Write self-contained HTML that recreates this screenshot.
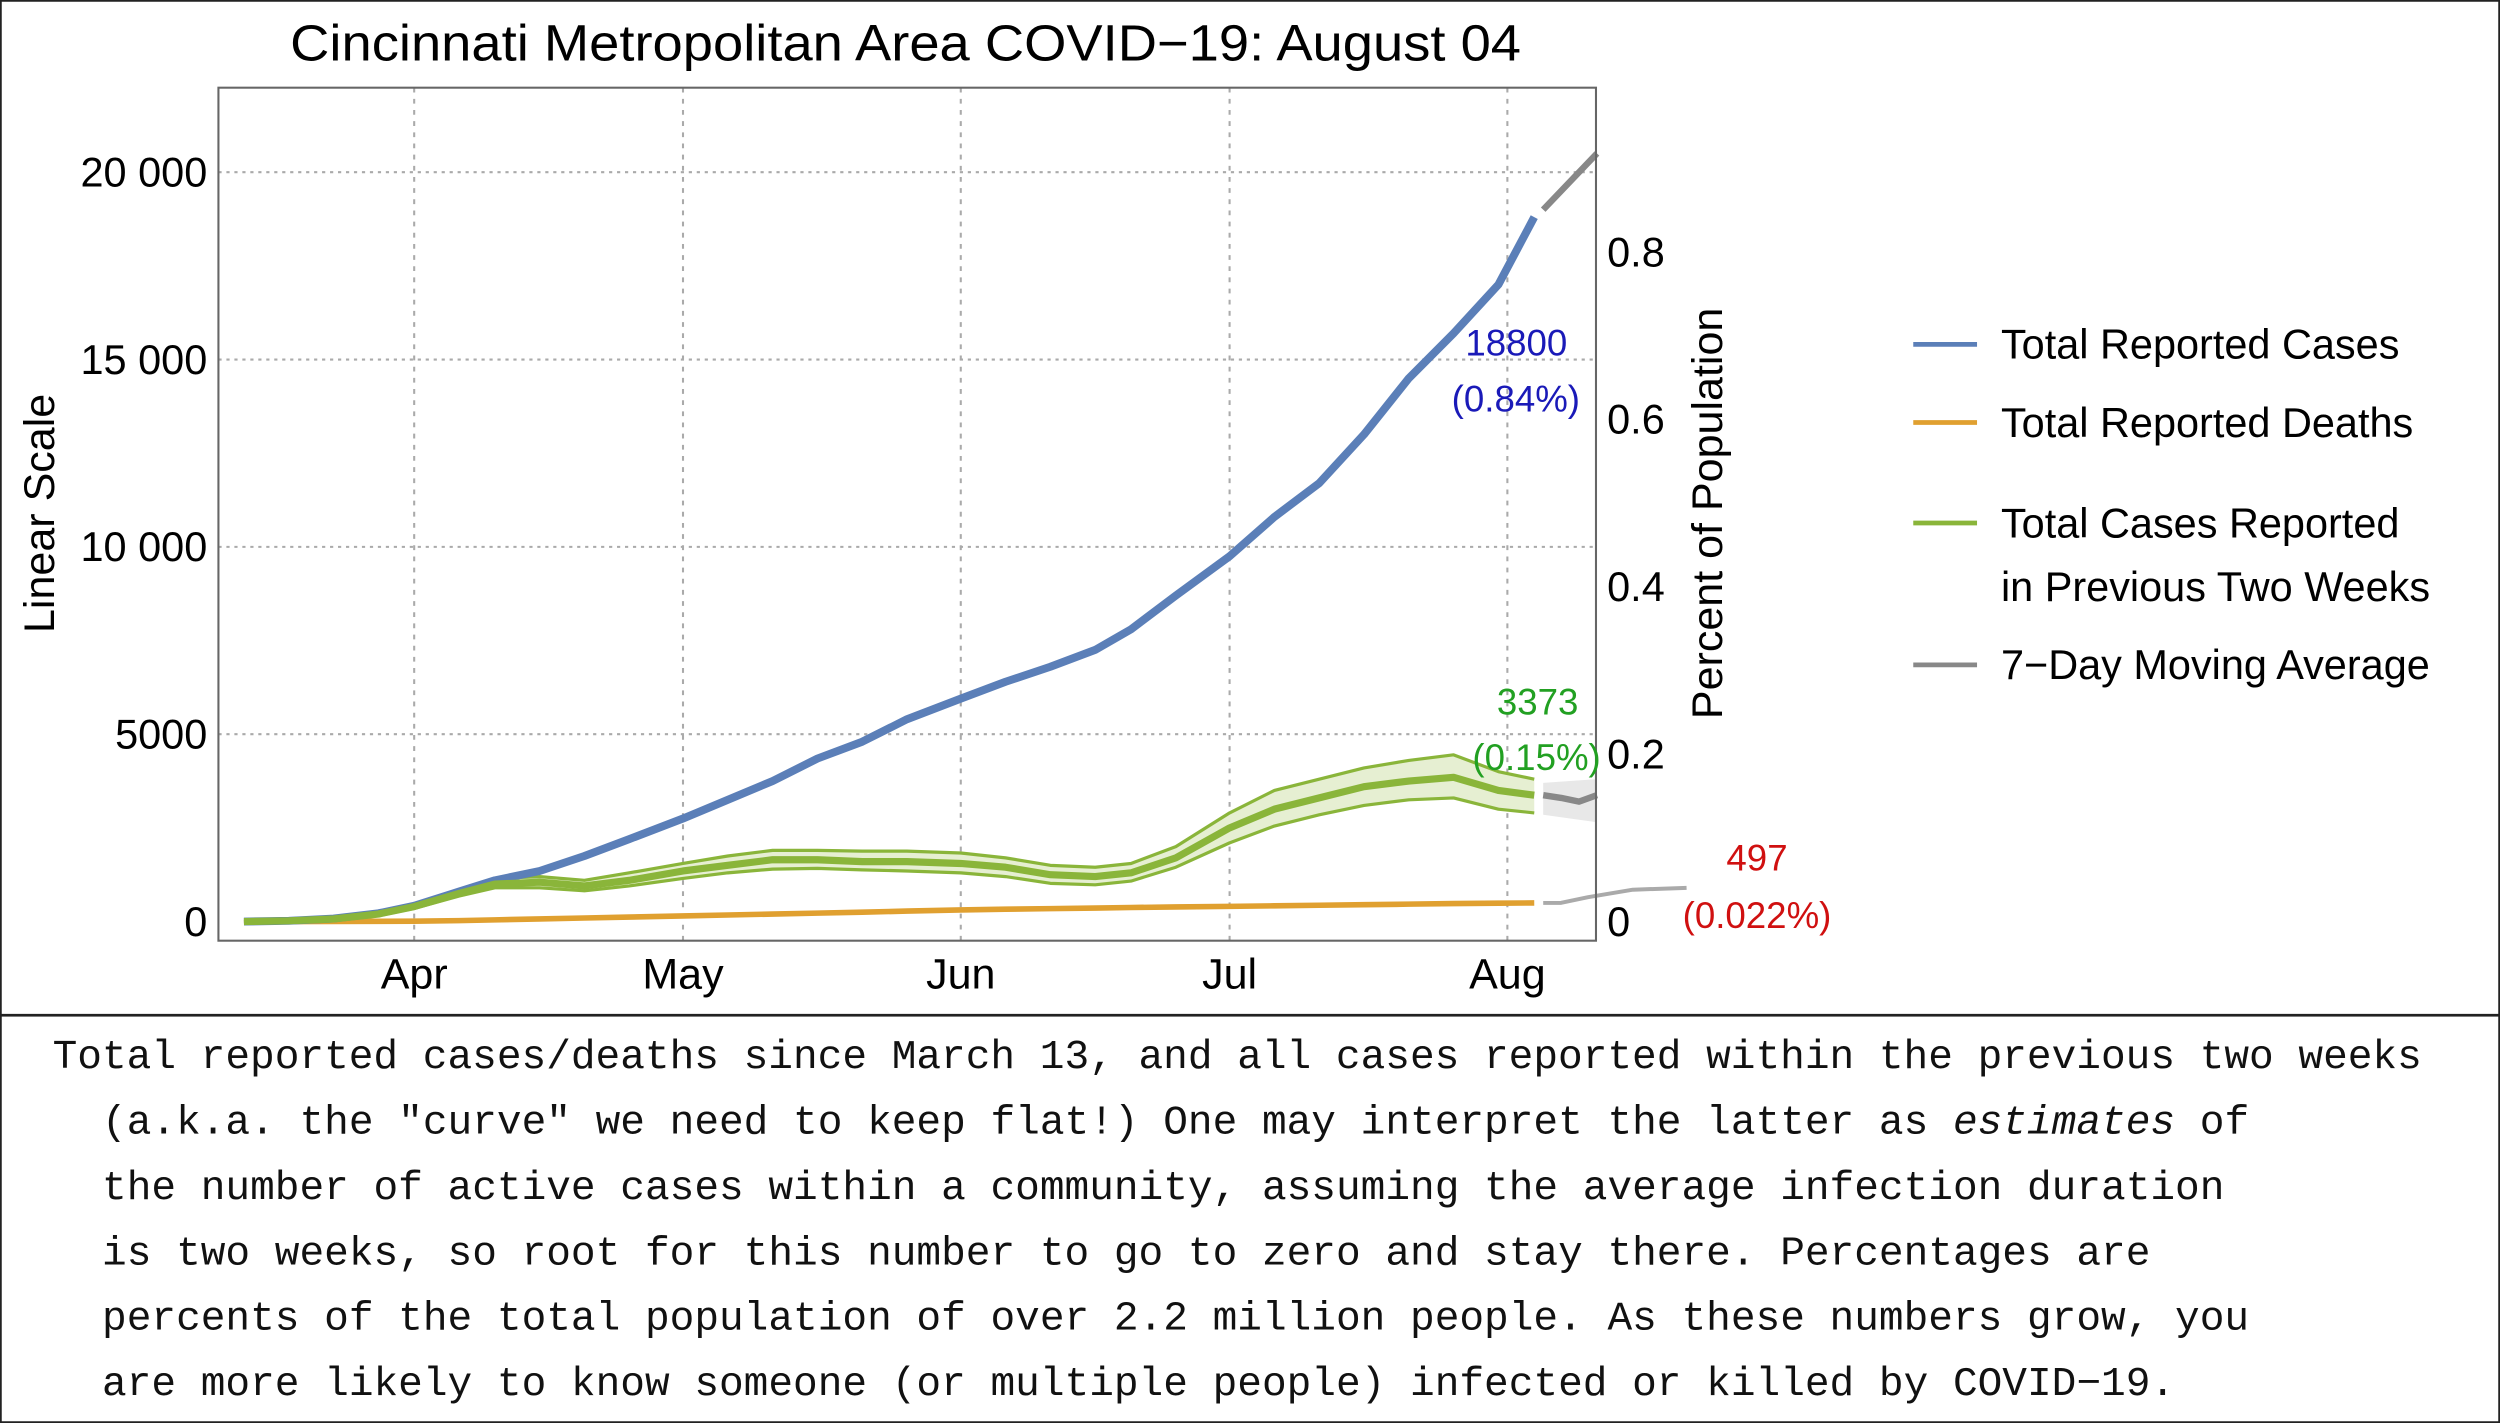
<!DOCTYPE html>
<html><head><meta charset="utf-8"><style>
html,body{margin:0;padding:0;background:#fff;width:2500px;height:1423px;overflow:hidden}
svg{display:block}
.sans{font-family:"Liberation Sans Narrow","Liberation Sans",sans-serif}
.mono{font-family:"Liberation Mono",monospace;font-size:25.8px;fill:#111}
</style></head><body>
<svg id="chart" width="2500" height="1423" viewBox="0 0 1568 892.5" preserveAspectRatio="none" xmlns="http://www.w3.org/2000/svg">
<rect x="0.5" y="0.5" width="1567" height="636" fill="#fff" stroke="#222" stroke-width="1.2"/>
<rect x="0.5" y="637" width="1567" height="255" fill="#fff" stroke="#222" stroke-width="1.2"/>
<text class="sans" x="568" y="38" font-size="32" text-anchor="middle" textLength="772" lengthAdjust="spacingAndGlyphs">Cincinnati Metropolitan Area COVID−19: August 04</text>
<g id="grid"></g>
<g id="marks"></g>
<g id="axes"></g>
<text class="sans" font-size="27" transform="translate(34,322) rotate(-90)" text-anchor="middle">Linear Scale</text>
<text class="sans" font-size="27" transform="translate(1080,322) rotate(-90)" text-anchor="middle">Percent of Population</text>
<text class="sans" font-size="23" fill="#1a1ab8" x="983" y="223" text-anchor="end">18800</text>
<text class="sans" font-size="23" fill="#1a1ab8" x="991" y="258" text-anchor="end">(0.84%)</text>
<text class="sans" font-size="23" fill="#22a022" x="990" y="448" text-anchor="end">3373</text>
<text class="sans" font-size="23" fill="#22a022" x="1004" y="483" text-anchor="end">(0.15%)</text>
<text class="sans" font-size="23" fill="#d01010" x="1102" y="546" text-anchor="middle">497</text>
<text class="sans" font-size="23" fill="#d01010" x="1102" y="582" text-anchor="middle">(0.022%)</text>
<g class="sans" font-size="26">
<line x1="1200" y1="216" x2="1240" y2="216" stroke="#5b7fb8" stroke-width="3"/>
<text x="1255" y="225">Total Reported Cases</text>
<line x1="1200" y1="265" x2="1240" y2="265" stroke="#e0a030" stroke-width="3"/>
<text x="1255" y="274">Total Reported Deaths</text>
<line x1="1200" y1="328" x2="1240" y2="328" stroke="#8ab53a" stroke-width="3"/>
<text x="1255" y="337">Total Cases Reported</text>
<text x="1255" y="377">in Previous Two Weeks</text>
<line x1="1200" y1="417" x2="1240" y2="417" stroke="#888" stroke-width="3"/>
<text x="1255" y="426">7−Day Moving Average</text>
</g>
<g class="mono">
<text x="33" y="670">Total reported cases/deaths since March 13, and all cases reported within the previous two weeks</text>
<text x="64" y="711">(a.k.a. the "curve" we need to keep flat!) One may interpret the latter as <tspan font-style="italic">estimates</tspan> of</text>
<text x="64" y="752">the number of active cases within a community, assuming the average infection duration</text>
<text x="64" y="793">is two weeks, so root for this number to go to zero and stay there. Percentages are</text>
<text x="64" y="834">percents of the total population of over 2.2 million people. As these numbers grow, you</text>
<text x="64" y="875">are more likely to know someone (or multiple people) infected or killed by COVID−19.</text>
</g>
</svg>
<script>
// data: day index from Mar 13 (0) ... Aug 4 (144)
const days      = [0,5,10,15,19,24,28,33,38,43,49,54,59,64,69,74,80,85,90,95,99,104,110,115,120,125,130,135,140,144];
const cases     = [0,20,80,220,420,800,1100,1350,1750,2200,2750,3250,3750,4350,4800,5400,5950,6400,6800,7250,7800,8700,9750,10800,11700,13000,14500,15700,17000,18800];
const active    = [0,20,70,200,400,750,1000,1050,950,1100,1350,1500,1650,1650,1600,1600,1550,1450,1250,1200,1300,1700,2500,3000,3300,3600,3750,3850,3500,3373];
const activeHi  = [0,25,80,230,450,820,1150,1200,1100,1300,1550,1750,1900,1900,1880,1880,1830,1700,1500,1450,1550,2000,2900,3500,3800,4100,4300,4450,4000,3800];
const activeLo  = [0,15,60,170,350,680,900,900,820,950,1150,1300,1400,1420,1380,1350,1300,1200,1020,980,1080,1450,2100,2550,2850,3100,3250,3300,3000,2900];
const deaths    = [0,1,3,6,10,25,45,70,95,120,150,175,200,225,250,280,310,330,345,360,375,390,405,420,435,450,465,480,490,497];
const projDays  = [145,147,149,151];
const projCases = [19000,19500,20000,20500];
const projActive= [3373,3300,3200,3373];
const projDeathDays = [145,147,150,155,161];
const projDeaths= [497,500,650,850,900];
const yTicks    = [0,5000,10000,15000,20000];
const yTickText = ["0","5000","10 000","15 000","20 000"];
const pTicks    = [0,0.2,0.4,0.6,0.8];
const pTickText = ["0","0.2","0.4","0.6","0.8"];
const months    = ["Apr","May","Jun","Jul","Aug"];
const monthDays = [19,49,80,110,141];

const NS="http://www.w3.org/2000/svg";
const L=137,R=1001,T=55,B=590;
const x=d=>153+d*5.62;
const y=v=>578-v*0.0235;
const yp=p=>578-p*525;
function mk(tag,attrs,parent){const e=document.createElementNS(NS,tag);for(const k in attrs)e.setAttribute(k,attrs[k]);parent.appendChild(e);return e;}
const grid=document.getElementById('grid'),marks=document.getElementById('marks'),axes=document.getElementById('axes');

yTicks.forEach((v,i)=>{if(v===0)return;
 const g=mk('line',{x1:L,x2:R,y1:y(v),y2:y(v),stroke:'#aaa','stroke-width':1.3,'stroke-dasharray':'2,3'},grid);
 
 });
monthDays.forEach(d=>{
 const g=mk('line',{x1:x(d),x2:x(d),y1:T,y2:B,stroke:'#aaa','stroke-width':1.3,'stroke-dasharray':'3,4'},grid);
 
 });

function pts(ds,vs){return ds.map((d,i)=>x(d)+','+y(vs[i])).join(' ');}
const band=mk('polygon',{points:pts(days,activeHi)+' '+pts(days.slice().reverse(),activeLo.slice().reverse()),fill:'#e6efd2',stroke:'none'},marks);


const pband=mk('polygon',{points:[x(145)+','+y(3700),x(151)+','+y(3800),x(151)+','+y(2650),x(145)+','+y(2850)].join(' '),fill:'#e8e8e8'},marks);


const series=[
 ['active-upper-line',days,activeHi,'#8ab53a',2],
 ['active-lower-line',days,activeLo,'#8ab53a',2],
 ['deaths-line',days,deaths,'#e0a030',3.5],
 ['cases-line',days,cases,'#5b7fb8',5],
 ['active-line',days,active,'#8ab53a',4.5],
 ['cases-projection',projDays,projCases,'#888',4],
 ['active-projection',projDays,projActive,'#888',4],
 ['deaths-projection',projDeathDays,projDeaths,'#aaa',2.5]];
series.forEach(s=>{
 const p=mk('polyline',{points:pts(s[1],s[2]),fill:'none',stroke:s[3],'stroke-width':s[4],'stroke-linejoin':'round'},marks);
 
 });

const frame=mk('rect',{x:L,y:T,width:R-L,height:B-T,fill:'none',stroke:'#666','stroke-width':1.3},axes);


yTicks.forEach((v,i)=>{
 const t=mk('text',{x:130,y:y(v)+9,'font-size':26,'text-anchor':'end','class':'sans'},axes);
 t.textContent=yTickText[i];
 
 });
pTicks.forEach((p,i)=>{
 const t=mk('text',{x:1008,y:yp(p)+9,'font-size':26,'class':'sans'},axes);
 t.textContent=pTickText[i];
 
 });
months.forEach((m,i)=>{
 const t=mk('text',{x:x(monthDays[i]),y:620,'font-size':27,'text-anchor':'middle','class':'sans'},axes);
 t.textContent=m;
 
 });
</script>
</body></html>
